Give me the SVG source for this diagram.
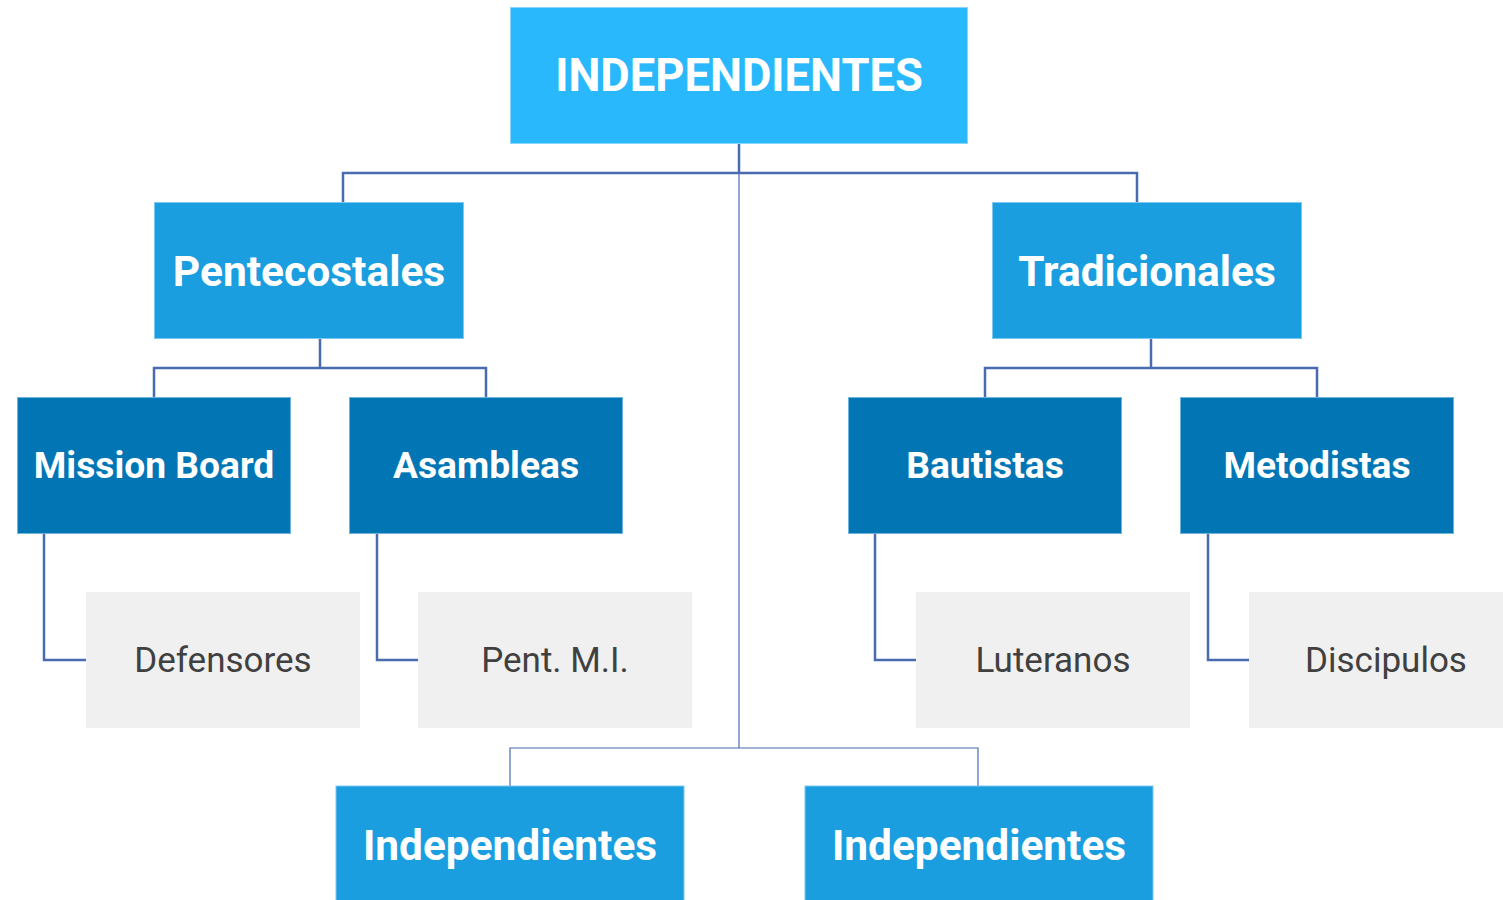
<svg xmlns="http://www.w3.org/2000/svg" width="1503" height="900" viewBox="0 0 1503 900">
<style>
.t{font-family:Roboto,"Liberation Sans",sans-serif;font-weight:700;fill:#ffffff;text-anchor:middle}
.l{font-family:Roboto,"Liberation Sans",sans-serif;font-weight:400;fill:#404040;text-anchor:middle;font-size:35px}
.c0{fill:#2AB8FD;stroke:#8AD6FB;stroke-width:1}
.c1{fill:#1A9EE0;stroke:#7CC8EE;stroke-width:1}
.c2{fill:#0276B5;stroke:#6FB4DC;stroke-width:1}
.c3{fill:#F0F0F0}
.ln{fill:none;stroke:#4A6BB0;stroke-width:2.5}
.thin{fill:none;stroke:#4A6BB0;stroke-width:1.2}
</style>
<rect width="1503" height="900" fill="#ffffff"/>
<g id="connectors">
<path class="ln" d="M739 144V173M343 202V173H1137V202"/>
<path class="thin" d="M739 173V748M510 786V748H978V786"/>
<path class="ln" d="M320 339V368M154 397V368H486V397"/>
<path class="ln" d="M1151 339V368M985 397V368H1317V397"/>
<path class="ln" d="M44 534V660H86"/>
<path class="ln" d="M377 534V660H418"/>
<path class="ln" d="M875 534V660H916"/>
<path class="ln" d="M1208 534V660H1249"/>
</g>
<g id="n-root"><rect class="c0" x="510.5" y="7.5" width="457" height="136"/><text class="t" x="739" y="91" font-size="45.3">INDEPENDIENTES</text></g>
<g id="n-pent"><rect class="c1" x="154.5" y="202.5" width="309" height="136"/><text class="t" x="309" y="286" font-size="42.5">Pentecostales</text></g>
<g id="n-trad"><rect class="c1" x="992.5" y="202.5" width="309" height="136"/><text class="t" x="1147" y="286" font-size="42.5">Tradicionales</text></g>
<g id="n-mission"><rect class="c2" x="17.5" y="397.5" width="273" height="136"/><text class="t" x="154" y="478" font-size="37.2">Mission Board</text></g>
<g id="n-asam"><rect class="c2" x="349.5" y="397.5" width="273" height="136"/><text class="t" x="486" y="478" font-size="37.2">Asambleas</text></g>
<g id="n-baut"><rect class="c2" x="848.5" y="397.5" width="273" height="136"/><text class="t" x="985" y="478" font-size="37.2">Bautistas</text></g>
<g id="n-meto"><rect class="c2" x="1180.5" y="397.5" width="273" height="136"/><text class="t" x="1317" y="478" font-size="37.2">Metodistas</text></g>
<g id="n-def"><rect class="c3" x="86" y="592" width="274" height="136"/><text class="l" x="223" y="672">Defensores</text></g>
<g id="n-pmi"><rect class="c3" x="418" y="592" width="274" height="136"/><text class="l" x="555" y="672">Pent. M.I.</text></g>
<g id="n-lut"><rect class="c3" x="916" y="592" width="274" height="136"/><text class="l" x="1053" y="672">Luteranos</text></g>
<g id="n-disc"><rect class="c3" x="1249" y="592" width="274" height="136"/><text class="l" x="1386" y="672">Discipulos</text></g>
<g id="n-ind1"><rect class="c1" x="336" y="786" width="348" height="120"/><text class="t" x="510" y="860" font-size="42.4">Independientes</text></g>
<g id="n-ind2"><rect class="c1" x="805" y="786" width="348" height="120"/><text class="t" x="979" y="860" font-size="42.4">Independientes</text></g>
</svg>
